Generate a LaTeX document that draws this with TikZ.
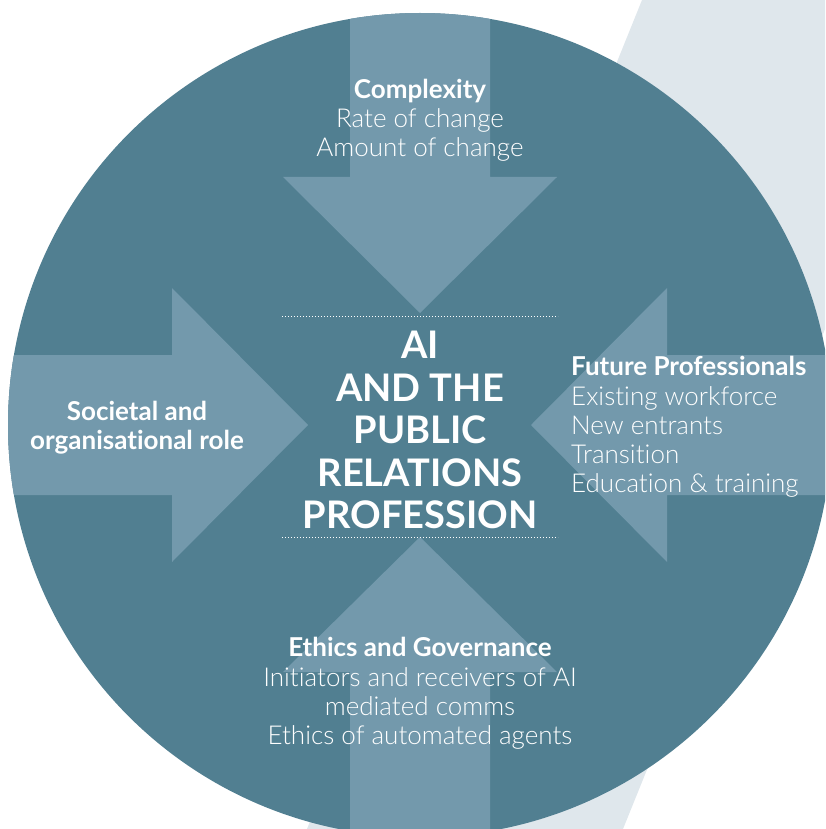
\documentclass[tikz,border=0pt]{standalone}
\usepackage{fontspec}
\setmainfont{Lato}[Ligatures=NoCommon]
\newfontfamily\lightfont{Lato}[UprightFont=* Light, Ligatures=NoCommon]
\definecolor{bandc}{RGB}{223,231,236}
\definecolor{circc}{RGB}{81,127,145}
\definecolor{arrc}{RGB}{115,153,172}
\tikzset{
  arrowshape/.style={fill=arrc, draw=none},
  dotline/.style={draw=white, line width=0.9pt, dash pattern=on 0.9pt off 2.1pt},
  titletext/.style={text=white, align=center, inner sep=0pt, font=\bfseries\fontsize{38}{42.5}\selectfont},
  headtext/.style={text=white, inner sep=0pt, font=\fontsize{26}{29.2}\selectfont},
}
\begin{document}
\begin{tikzpicture}[x=1pt,y=-1pt]
\useasboundingbox (0,0) rectangle (825,829);
\clip (0,0) rectangle (825,829);
% light diagonal band
\fill[bandc] (642,0) -- (958,0) -- (623,829) -- (307,829) -- cycle;
% circle
\fill[circc] (420,425) circle (412);
\begin{scope}
  \clip (420,425) circle (412);
  % top arrow (down)
  \fill[arrowshape] (350,-5) -- (490,-5) -- (490,177) -- (557,177) -- (420,313) -- (283,177) -- (350,177) -- cycle;
  % bottom arrow (up)
  \fill[arrowshape] (350,845) -- (350,672) -- (283,672) -- (420,537) -- (557,672) -- (490,672) -- (490,845) -- cycle;
  % left arrow (right)
  \fill[arrowshape] (-5,355) -- (172,355) -- (172,288) -- (308,425) -- (172,562) -- (172,495) -- (-5,495) -- cycle;
  % right arrow (left)
  \fill[arrowshape] (845,355) -- (667,355) -- (667,288) -- (531,425) -- (667,562) -- (667,495) -- (845,495) -- cycle;
\end{scope}
% dotted rules
\coordinate (t1) at (282,316);
\coordinate (t2) at (558,316);
\coordinate (b1) at (282,537);
\coordinate (b2) at (558,537);
\draw[dotline] (t1) -- (t2);
\draw[dotline] (b1) -- (b2);
% centre title
\node[titletext] (title) at (420,430) {AI\\AND THE\\PUBLIC\\RELATIONS\\PROFESSION};
% top
\node[headtext, align=center] (complexity) at (420,120) {\textbf{Complexity}\\{\lightfont Rate of change}\\{\lightfont Amount of change}};
% left
\node[headtext, align=center] (societal) at (137,427.5) {\textbf{Societal and}\\\textbf{organisational role}};
% right
\node[headtext, align=left, anchor=west] (future) at (571,427) {\textbf{Future Professionals}\\{\lightfont Existing workforce}\\{\lightfont New entrants}\\{\lightfont Transition}\\{\lightfont Education \& training}};
% bottom
\node[headtext, align=center] (ethics) at (420,693.5) {\textbf{Ethics and Governance}\\{\lightfont Initiators and receivers of AI}\\{\lightfont mediated comms}\\{\lightfont Ethics of automated agents}};
\end{tikzpicture}
\end{document}
